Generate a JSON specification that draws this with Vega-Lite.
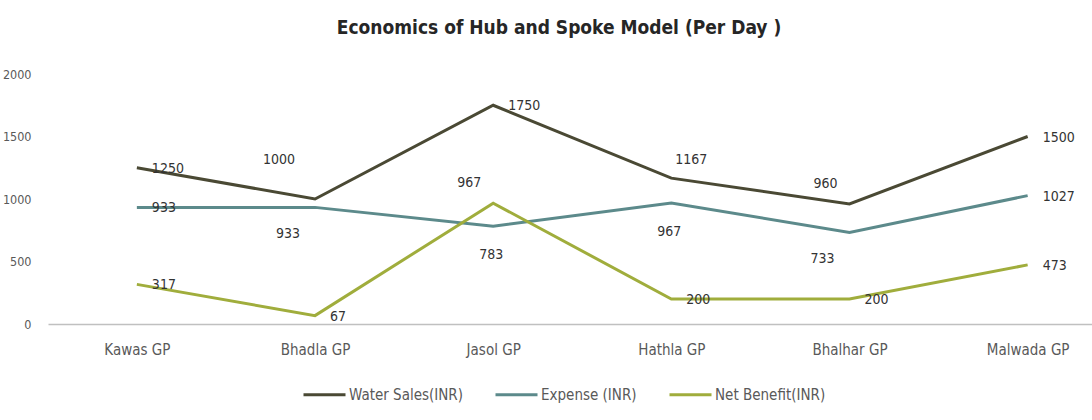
{
  "$schema": "https://vega.github.io/schema/vega-lite/v6.json",
  "autosize": {"type": "none"},
  "width": 1044,
  "height": 250,
  "padding": {"left": 48, "top": 74, "right": 0, "bottom": 96},
  "background": "white",
  "config": {
    "view": {"stroke": null},
    "font": "DejaVu Sans Condensed, Liberation Sans Narrow, sans-serif"
  },
  "title": {
    "text": "Economics of Hub and Spoke Model (Per Day )",
    "fontSize": 19,
    "fontWeight": "bold",
    "color": "#262626",
    "font": "DejaVu Sans Condensed, Liberation Sans Narrow, sans-serif",
    "anchor": "middle",
    "dx": -11,
    "offset": 30
  },
  "data": {
    "values": [
      {"site": "Kawas GP", "series": "Water Sales(INR)", "value": 1250},
      {"site": "Bhadla GP", "series": "Water Sales(INR)", "value": 1000},
      {"site": "Jasol GP", "series": "Water Sales(INR)", "value": 1750},
      {"site": "Hathla GP", "series": "Water Sales(INR)", "value": 1167},
      {"site": "Bhalhar GP", "series": "Water Sales(INR)", "value": 960},
      {"site": "Malwada GP", "series": "Water Sales(INR)", "value": 1500},
      {"site": "Kawas GP", "series": "Expense (INR)", "value": 933},
      {"site": "Bhadla GP", "series": "Expense (INR)", "value": 933},
      {"site": "Jasol GP", "series": "Expense (INR)", "value": 783},
      {"site": "Hathla GP", "series": "Expense (INR)", "value": 967},
      {"site": "Bhalhar GP", "series": "Expense (INR)", "value": 733},
      {"site": "Malwada GP", "series": "Expense (INR)", "value": 1027},
      {"site": "Kawas GP", "series": "Net Benefit(INR)", "value": 317},
      {"site": "Bhadla GP", "series": "Net Benefit(INR)", "value": 67},
      {"site": "Jasol GP", "series": "Net Benefit(INR)", "value": 967},
      {"site": "Hathla GP", "series": "Net Benefit(INR)", "value": 200},
      {"site": "Bhalhar GP", "series": "Net Benefit(INR)", "value": 200},
      {"site": "Malwada GP", "series": "Net Benefit(INR)", "value": 473}
    ]
  },
  "encoding": {
    "x": {
      "field": "site",
      "type": "nominal",
      "sort": ["Kawas GP", "Bhadla GP", "Jasol GP", "Hathla GP", "Bhalhar GP", "Malwada GP"],
      "scale": {"type": "point", "padding": 0.43, "align": 0.58},
      "axis": {
        "title": null,
        "labelAngle": 0,
        "ticks": false,
        "domainColor": "#c0c0c0",
        "domainWidth": 1.5,
        "labelPadding": 18,
        "labelFontSize": 15,
        "labelColor": "#595959",
        "grid": false
      }
    },
    "y": {
      "field": "value",
      "type": "quantitative",
      "scale": {"domain": [0, 2000], "nice": false},
      "axis": {
        "title": null,
        "values": [0, 500, 1000, 1500, 2000],
        "format": "d",
        "grid": false,
        "domain": false,
        "ticks": false,
        "labelPadding": 17,
        "labelFontSize": 12.5,
        "labelColor": "#595959"
      }
    }
  },
  "layer": [
    {
      "mark": {"type": "line", "strokeWidth": 3},
      "encoding": {
        "color": {
          "field": "series",
          "type": "nominal",
          "sort": ["Water Sales(INR)", "Expense (INR)", "Net Benefit(INR)"],
          "scale": {
            "domain": ["Water Sales(INR)", "Expense (INR)", "Net Benefit(INR)"],
            "range": ["#4a4934", "#5c8a8b", "#a0ad3c"]
          },
          "legend": {
            "orient": "none",
            "legendX": 254,
            "legendY": 298,
            "direction": "horizontal",
            "title": null,
            "symbolType": "stroke",
            "symbolSize": 1764,
            "symbolStrokeWidth": 3,
            "labelFontSize": 15,
            "labelColor": "#595959",
            "columnPadding": 26,
            "padding": 0,
            "labelOffset": 2
          }
        }
      }
    },
    {
      "transform": [{"filter": "(datum.site === 'Kawas GP') || (datum.site === 'Malwada GP') || (datum.series === 'Water Sales(INR)' && datum.site === 'Jasol GP') || (datum.series === 'Net Benefit(INR)' && datum.site !== 'Jasol GP')"}],
      "mark": {"type": "text", "align": "left", "baseline": "middle", "dx": 15, "dy": 1, "fontSize": 14, "color": "#333333"},
      "encoding": {"text": {"field": "value", "type": "quantitative"}}
    },
    {
      "transform": [{"filter": "datum.series === 'Water Sales(INR)' && datum.site === 'Bhadla GP'"}],
      "mark": {"type": "text", "align": "center", "baseline": "middle", "dx": -36, "dy": -39, "fontSize": 14, "color": "#333333"},
      "encoding": {"text": {"field": "value", "type": "quantitative"}}
    },
    {
      "transform": [{"filter": "datum.series === 'Water Sales(INR)' && datum.site === 'Hathla GP'"}],
      "mark": {"type": "text", "align": "center", "baseline": "middle", "dx": 20, "dy": -18, "fontSize": 14, "color": "#333333"},
      "encoding": {"text": {"field": "value", "type": "quantitative"}}
    },
    {
      "transform": [{"filter": "(datum.series === 'Water Sales(INR)' && datum.site === 'Bhalhar GP') || (datum.series === 'Net Benefit(INR)' && datum.site === 'Jasol GP')"}],
      "mark": {"type": "text", "align": "center", "baseline": "middle", "dx": -24, "dy": -20, "fontSize": 14, "color": "#333333"},
      "encoding": {"text": {"field": "value", "type": "quantitative"}}
    },
    {
      "transform": [{"filter": "datum.series === 'Expense (INR)' && (datum.site === 'Bhadla GP' || datum.site === 'Bhalhar GP')"}],
      "mark": {"type": "text", "align": "center", "baseline": "middle", "dx": -27, "dy": 27, "fontSize": 14, "color": "#333333"},
      "encoding": {"text": {"field": "value", "type": "quantitative"}}
    },
    {
      "transform": [{"filter": "datum.series === 'Expense (INR)' && (datum.site === 'Jasol GP' || datum.site === 'Hathla GP')"}],
      "mark": {"type": "text", "align": "center", "baseline": "middle", "dx": -2, "dy": 29, "fontSize": 14, "color": "#333333"},
      "encoding": {"text": {"field": "value", "type": "quantitative"}}
    }
  ]
}
